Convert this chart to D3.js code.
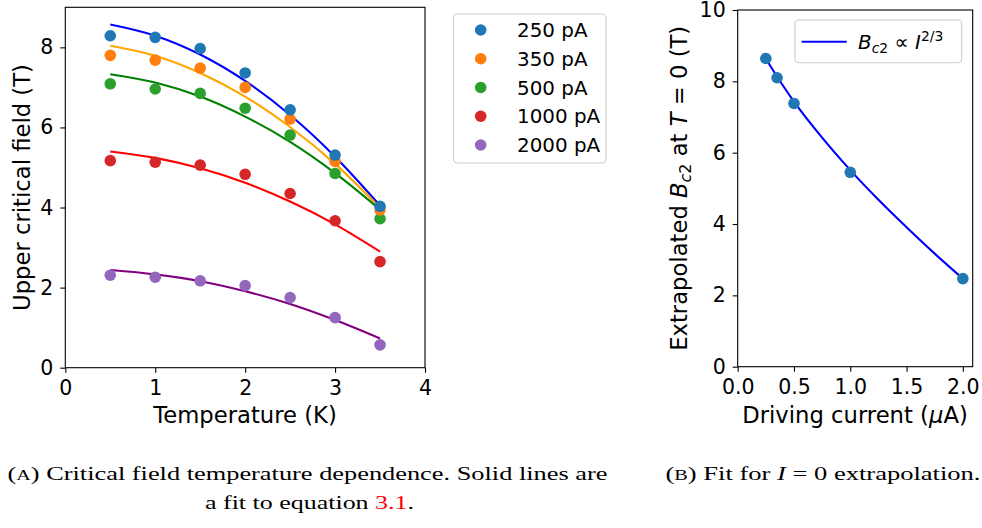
<!DOCTYPE html>
<html>
<head>
<meta charset="utf-8">
<script src="https://cdn.jsdelivr.net/npm/d3@7"></script>
<style>
  body { margin: 0; background: #fff; }
  svg { display: block; }
  .tick text { font-family: "DejaVu Sans", sans-serif; font-size: 20.5px; fill: #000; }
  .lab { font-family: "DejaVu Sans", sans-serif; font-size: 22.7px; fill: #000; }
  .leg { font-family: "DejaVu Sans", sans-serif; font-size: 19.9px; fill: #000; }
  .cap { font-family: "Liberation Serif", serif; font-size: 19px; fill: #000; }
</style>
</head>
<body>
<div id="fig"></div>
<script>
// === left panel: critical field vs temperature
var temps = [0.5, 1, 1.5, 2, 2.5, 3, 3.5];
var currents = ["250 pA", "350 pA", "500 pA", "1000 pA", "2000 pA"];

var bc250  = [8.29, 8.25, 7.97, 7.36, 6.44, 5.31, 4.03];
var bc350  = [7.80, 7.68, 7.48, 7.00, 6.21, 5.15, 3.94];
var bc500  = [7.09, 6.96, 6.85, 6.48, 5.81, 4.85, 3.72];
var bc1000 = [5.17, 5.13, 5.06, 4.83, 4.35, 3.67, 2.65];
var bc2000 = [2.31, 2.26, 2.17, 2.05, 1.75, 1.25, 0.57];

// fitted curves, read at the same temperatures
var fit250  = [8.57, 8.29, 7.82, 7.16, 6.31, 5.27, 4.05];
var fit350  = [8.04, 7.79, 7.36, 6.77, 6.01, 5.09, 3.99];
var fit500  = [7.33, 7.12, 6.77, 6.27, 5.64, 4.86, 3.95];
var fit1000 = [5.40, 5.24, 4.98, 4.62, 4.15, 3.58, 2.90];
var fit2000 = [2.44, 2.33, 2.16, 1.91, 1.59, 1.19, 0.73];

var tempTicks = [0, 1, 2, 3, 4];
var fieldTicks = [0, 2, 4, 6, 8];

// === right panel: extrapolated Bc2 vs driving current
var drivingCurrent = [0.25, 0.35, 0.5, 1.0, 2.0];
var bcZero = [8.64, 8.10, 7.38, 5.45, 2.47];
var fitCurrent = [0.25, 0.3, 0.35, 0.4, 0.5, 0.75, 1.0, 1.25, 1.5, 1.75, 2.0];
var fitBcZero  = [8.64, 8.38, 8.13, 7.89, 7.43, 6.42, 5.51, 4.68, 3.91, 3.17, 2.47];
var currentTicks = [0, 0.5, 1.0, 1.5, 2.0];
var zeroTicks = [0, 2, 4, 6, 8, 10];

var dotColors = ["#1f77b4", "#ff7f0e", "#2ca02c", "#d62728", "#9467bd"];
var lineColors = ["blue", "orange", "green", "red", "purple"];
var pointSets = [bc250, bc350, bc500, bc1000, bc2000];
var fitSets = [fit250, fit350, fit500, fit1000, fit2000];

var svg = d3.select("#fig").append("svg")
    .attr("width", 982).attr("height", 528);

function frame(x, y) {
  svg.append("rect")
    .attr("x", x.range()[0]).attr("y", y.range()[1])
    .attr("width", x.range()[1] - x.range()[0])
    .attr("height", y.range()[0] - y.range()[1])
    .attr("fill", "none").attr("stroke", "#000").attr("stroke-width", 1.1);
}

function axes(x, y, xt, yt, xfmt) {
  var gx = svg.append("g")
    .attr("transform", "translate(0," + y.range()[0] + ")")
    .call(d3.axisBottom(x).tickValues(xt).tickFormat(xfmt).tickSize(5).tickPadding(8).tickSizeOuter(0));
  var gy = svg.append("g")
    .attr("transform", "translate(" + x.range()[0] + ",0)")
    .call(d3.axisLeft(y).tickValues(yt).tickFormat(d3.format("d")).tickSize(5).tickPadding(7).tickSizeOuter(0));
  [gx, gy].forEach(function(g) {
    g.select(".domain").remove();
    g.selectAll(".tick line").attr("stroke", "#000").attr("stroke-width", 1.1);
    g.selectAll(".tick text").attr("font-family", null).attr("font-size", null);
  });
  frame(x, y);
}

// ---------- left
var xL = d3.scaleLinear().domain([0, 4]).range([65.3, 425]);
var yL = d3.scaleLinear().domain([0, 9]).range([367.7, 7.3]);

var line = d3.line().curve(d3.curveMonotoneX);

fitSets.forEach(function(fit, k) {
  svg.append("path")
    .attr("d", line(temps.map(function(t, i) { return [xL(t), yL(fit[i])]; })))
    .attr("fill", "none").attr("stroke", lineColors[k]).attr("stroke-width", 2.1);
});

// draw the 2000 pA dots first so the 250 pA ones sit on top
d3.range(4, -1, -1).forEach(function(k) {
  svg.append("g").selectAll("circle")
    .data(pointSets[k]).enter()
    .append("circle")
      .attr("cx", function(d, i) { return xL(temps[i]); })
      .attr("cy", function(d) { return yL(d); })
      .attr("r", 5.8)
      .attr("fill", dotColors[k]);
});

axes(xL, yL, tempTicks, fieldTicks, d3.format("d"));

svg.append("text").attr("class", "lab")
  .attr("x", 245).attr("y", 423).attr("text-anchor", "middle")
  .text("Temperature (K)");
svg.append("text").attr("class", "lab")
  .attr("transform", "translate(30,187.5) rotate(-90)").attr("text-anchor", "middle")
  .text("Upper critical field (T)");

// legend
svg.append("rect")
  .attr("x", 453.5).attr("y", 14).attr("width", 152.5).attr("height", 149)
  .attr("rx", 4).attr("fill", "#fff").attr("fill-opacity", 0.8)
  .attr("stroke", "#cccccc").attr("stroke-width", 1.1);
var legY = d3.scaleLinear().domain([0, 4]).range([30, 145]);
currents.forEach(function(c, k) {
  svg.append("circle").attr("cx", 480.7).attr("cy", legY(k)).attr("r", 5.8).attr("fill", dotColors[k]);
  svg.append("text").attr("class", "leg")
    .attr("x", 517).attr("y", legY(k)).attr("dy", "0.36em").text(c);
});

// ---------- right
var xR = d3.scaleLinear().domain([0, 2.0875]).range([737.7, 972.7]);
var yR = d3.scaleLinear().domain([0, 10]).range([366.7, 10]);

svg.append("path")
  .attr("d", line(fitCurrent.map(function(c, i) { return [xR(c), yR(fitBcZero[i])]; })))
  .attr("fill", "none").attr("stroke", "blue").attr("stroke-width", 2.1);

svg.append("g").selectAll("circle")
  .data(bcZero).enter()
  .append("circle")
    .attr("cx", function(d, i) { return xR(drivingCurrent[i]); })
    .attr("cy", function(d) { return yR(d); })
    .attr("r", 5.8)
    .attr("fill", "#1f77b4");

axes(xR, yR, currentTicks, zeroTicks, d3.format(".1f"));

var xl = svg.append("text").attr("class", "lab")
  .attr("x", 855).attr("y", 423).attr("text-anchor", "middle");
xl.append("tspan").text("Driving current (");
xl.append("tspan").attr("font-style", "italic").text("\u03bc");
xl.append("tspan").text("A)");

var yl = svg.append("text").attr("class", "lab")
  .attr("transform", "translate(687,188.3) rotate(-90)").attr("text-anchor", "middle");
yl.append("tspan").text("Extrapolated ");
yl.append("tspan").attr("font-style", "italic").text("B");
yl.append("tspan").attr("font-style", "italic").attr("font-size", "15.9px").attr("dy", 4).text("c");
yl.append("tspan").attr("font-size", "15.9px").text("2");
yl.append("tspan").attr("dy", -4).text(" at ");
yl.append("tspan").attr("font-style", "italic").text("T");
yl.append("tspan").text(" = 0 (T)");

svg.append("rect")
  .attr("x", 795).attr("y", 20).attr("width", 166.7).attr("height", 42.7)
  .attr("rx", 4).attr("fill", "#fff").attr("fill-opacity", 0.8)
  .attr("stroke", "#cccccc").attr("stroke-width", 1.1);
svg.append("line")
  .attr("x1", 801.7).attr("x2", 846.7).attr("y1", 41.7).attr("y2", 41.7)
  .attr("stroke", "blue").attr("stroke-width", 2.1);
var lt = svg.append("text").attr("class", "leg").attr("x", 858).attr("y", 49);
lt.append("tspan").attr("font-style", "italic").text("B");
lt.append("tspan").attr("font-style", "italic").attr("font-size", "13.9px").attr("dy", 4).text("c");
lt.append("tspan").attr("font-size", "13.9px").text("2");
lt.append("tspan").attr("dy", -4).text(" \u221d ");
lt.append("tspan").attr("font-style", "italic").text("I");
lt.append("tspan").attr("font-size", "13.9px").attr("dy", -8).text("2/3");

// ---------- captions
var c1 = svg.append("text").attr("class", "cap")
  .attr("x", 7.5).attr("y", 480).attr("textLength", 600).attr("lengthAdjust", "spacingAndGlyphs");
c1.append("tspan").text("(");
c1.append("tspan").attr("font-size", "14.5px").text("A");
c1.append("tspan").text(") Critical field temperature dependence. Solid lines are");

var c2 = svg.append("text").attr("class", "cap")
  .attr("x", 205).attr("y", 509).attr("textLength", 209).attr("lengthAdjust", "spacingAndGlyphs");
c2.append("tspan").text("a fit to equation ");
c2.append("tspan").attr("fill", "red").text("3.1");
c2.append("tspan").text(".");

var c3 = svg.append("text").attr("class", "cap")
  .attr("x", 665.5).attr("y", 480).attr("textLength", 315).attr("lengthAdjust", "spacingAndGlyphs");
c3.append("tspan").text("(");
c3.append("tspan").attr("font-size", "14.5px").text("B");
c3.append("tspan").text(") Fit for ");
c3.append("tspan").attr("font-style", "italic").text("I");
c3.append("tspan").text(" = 0 extrapolation.");
</script>
</body>
</html>
